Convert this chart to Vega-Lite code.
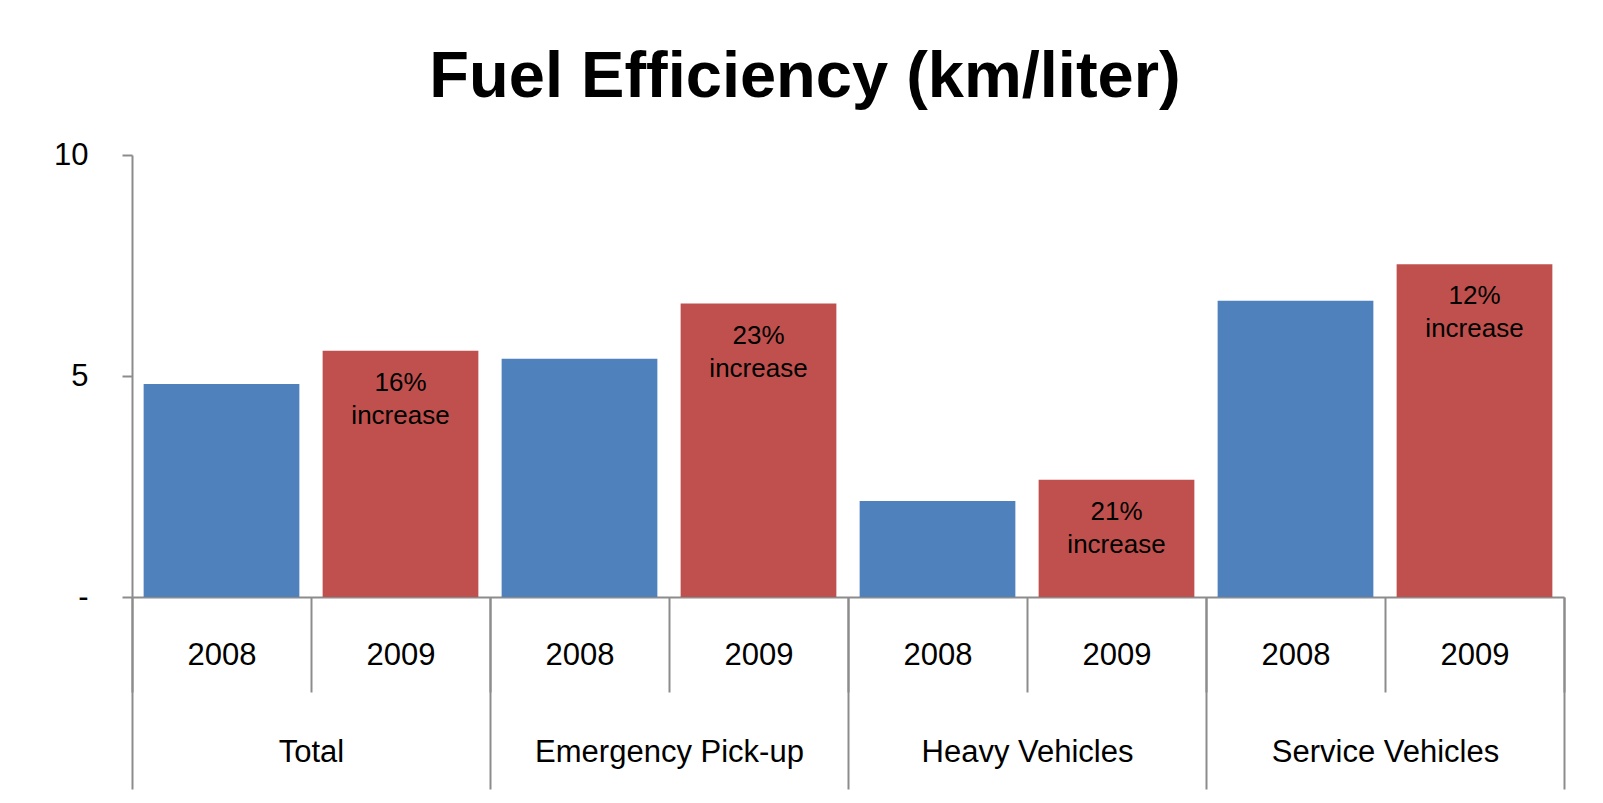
{
  "$schema": "https://vega.github.io/schema/vega-lite/v6.json",
  "width": 1432,
  "height": 442,
  "autosize": {"type": "none"},
  "padding": {"left": 132, "top": 155, "right": 39, "bottom": 206},
  "background": "white",
  "title": {
    "text": "Fuel Efficiency (km/liter)",
    "font": "Liberation Sans",
    "fontWeight": "bold",
    "fontSize": 65,
    "color": "black",
    "anchor": "middle",
    "frame": "group",
    "dx": -43,
    "dy": 78,
    "baseline": "alphabetic",
    "offset": 55
  },
  "config": {
    "view": {"stroke": null},
    "axis": {
      "labelFont": "Liberation Sans",
      "labelColor": "black",
      "labelFontSize": 31,
      "labelLimit": 0,
      "domainColor": "#8c8c8c",
      "tickColor": "#8c8c8c",
      "domainWidth": 2,
      "tickWidth": 2,
      "grid": false,
      "title": null
    }
  },
  "resolve": {"scale": {"x": "independent"}, "axis": {"x": "independent"}},
  "layer": [
    {
      "data": {"name": "bars", "values": [
        {"key": "Total|2008", "group": "Total", "year": "2008", "value": 4.82, "label": ""},
        {"key": "Total|2009", "group": "Total", "year": "2009", "value": 5.57, "label": "16%\nincrease"},
        {"key": "Emergency Pick-up|2008", "group": "Emergency Pick-up", "year": "2008", "value": 5.39, "label": ""},
        {"key": "Emergency Pick-up|2009", "group": "Emergency Pick-up", "year": "2009", "value": 6.64, "label": "23%\nincrease"},
        {"key": "Heavy Vehicles|2008", "group": "Heavy Vehicles", "year": "2008", "value": 2.17, "label": ""},
        {"key": "Heavy Vehicles|2009", "group": "Heavy Vehicles", "year": "2009", "value": 2.65, "label": "21%\nincrease"},
        {"key": "Service Vehicles|2008", "group": "Service Vehicles", "year": "2008", "value": 6.70, "label": ""},
        {"key": "Service Vehicles|2009", "group": "Service Vehicles", "year": "2009", "value": 7.53, "label": "12%\nincrease"}
      ]},
      "layer": [
        {
          "mark": {"type": "bar", "width": {"band": 0.87}},
          "encoding": {
            "x": {
              "field": "key", "type": "nominal", "sort": null,
              "scale": {"paddingInner": 0, "paddingOuter": 0},
              "axis": {
                "orient": "bottom",
                "labelExpr": "split(datum.value, '|')[1]",
                "labelAngle": 0,
                "labelBaseline": "middle",
                "tickBand": "extent",
                "tickSize": 95,
                "labelPadding": -37,
                "labelOverlap": false
              }
            },
            "y": {
              "field": "value", "type": "quantitative",
              "scale": {"domain": [0, 10], "nice": false},
              "axis": {
                "values": [0, 5, 10],
                "labelExpr": "datum.value == 0 ? '-' : datum.label",
                "tickSize": 10,
                "labelPadding": 34
              }
            },
            "color": {
              "field": "year", "type": "nominal",
              "scale": {"domain": ["2008", "2009"], "range": ["#4F81BD", "#C0504D"]},
              "legend": null
            }
          }
        },
        {
          "transform": [{"filter": "datum.label != ''"}],
          "mark": {"type": "text", "font": "Liberation Sans", "fontSize": 26, "color": "black", "baseline": "alphabetic", "align": "center", "dy": 40, "lineHeight": 33, "lineBreak": "\n"},
          "encoding": {
            "x": {"field": "key", "type": "nominal", "sort": null},
            "y": {"field": "value", "type": "quantitative"},
            "text": {"field": "label"}
          }
        }
      ]
    },
    {
      "data": {"values": [
        {"group": "Total"},
        {"group": "Emergency Pick-up"},
        {"group": "Heavy Vehicles"},
        {"group": "Service Vehicles"}
      ]},
      "mark": {"type": "text"},
      "encoding": {
        "x": {
          "field": "group", "type": "nominal", "sort": null,
          "scale": {"paddingInner": 0, "paddingOuter": 0},
          "axis": {
            "orient": "bottom",
            "domain": false,
            "labelAngle": 0,
            "labelBaseline": "middle",
            "tickBand": "extent",
            "tickSize": 192,
            "labelPadding": -37,
            "labelOverlap": false
          }
        },
        "text": {"value": ""}
      }
    }
  ]
}
